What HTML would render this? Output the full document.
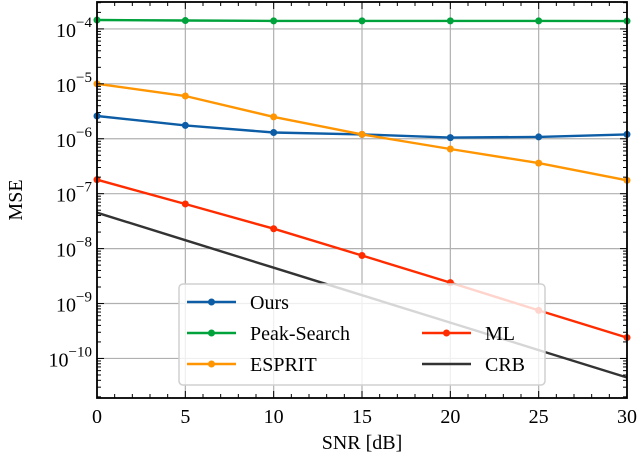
<!DOCTYPE html>
<html><head><meta charset="utf-8"><style>
html,body{margin:0;padding:0;background:#fff;}
svg{display:block;font-family:"Liberation Serif","DejaVu Serif",serif;}
</style></head><body>
<svg id="chart" width="640" height="457" viewBox="0 0 640 457" xmlns="http://www.w3.org/2000/svg"></svg>
<script>
const snr = [0, 5, 10, 15, 20, 25, 30];
const xTicks = [0, 5, 10, 15, 20, 25, 30];
const yTickExps = [-4, -5, -6, -7, -8, -9, -10];
const oursMse = [2.6e-6, 1.75e-6, 1.3e-6, 1.2e-6, 1.05e-6, 1.08e-6, 1.2e-6];
const peakMse = [1.45e-4, 1.42e-4, 1.4e-4, 1.4e-4, 1.4e-4, 1.4e-4, 1.39e-4];
const espritMse = [1.0e-5, 6.0e-6, 2.5e-6, 1.2e-6, 6.5e-7, 3.6e-7, 1.75e-7];
const mlMse = [1.8e-7, 6.5e-8, 2.3e-8, 7.5e-9, 2.4e-9, 7.5e-10, 2.4e-10];
const crbMse = [4.5e-8, 1.42e-8, 4.5e-9, 1.42e-9, 4.5e-10, 1.42e-10, 4.5e-11];

const svg = document.getElementById('chart');
const NS = 'http://www.w3.org/2000/svg';
const L = 97, R = 627, T = 2, B = 398;
const yTop = -3.51, yBot = -10.72;
function xs(v){ return L + (v - 0) / 30 * (R - L); }
function ys(v){ const lg = Math.log10(v); return T + (yTop - lg) / (yTop - yBot) * (B - T); }
function mk(tag, attrs, parent){ const e = document.createElementNS(NS, tag); for (const k in attrs) e.setAttribute(k, attrs[k]); (parent||svg).appendChild(e); return e; }

const grid = mk('g', {});


xTicks.forEach(t => mk('line', {x1: xs(t), x2: xs(t), y1: T, y2: B, stroke: '#b0b0b0', 'stroke-width': 1.2}, grid));
yTickExps.forEach(e => mk('line', {x1: L, x2: R, y1: ys(Math.pow(10, e)), y2: ys(Math.pow(10, e)), stroke: '#b0b0b0', 'stroke-width': 1.2}, grid));

const series = [
  {name: 'ours', data: oursMse, color: '#0c5da5', marker: true},
  {name: 'peak-search', data: peakMse, color: '#00a23c', marker: true},
  {name: 'esprit', data: espritMse, color: '#ff9500', marker: true},
  {name: 'ml', data: mlMse, color: '#ff2c00', marker: true},
  {name: 'crb', data: crbMse, color: '#333333', marker: false}
];
series.forEach(s => {
  const g = mk('g', {});
  
  
  const pts = s.data.map((v, i) => xs(snr[i]).toFixed(1) + ',' + ys(v).toFixed(1)).join(' ');
  const pl = mk('polyline', {points: pts, fill: 'none', stroke: s.color, 'stroke-width': 2.4}, g);
  
  
  if (s.marker) s.data.forEach((v, i) => {
    const c = mk('circle', {cx: xs(snr[i]), cy: ys(v), r: 3.5, fill: s.color}, g);
    
    
  });
});

const ax = mk('g', {});


mk('rect', {x: L, y: T, width: R - L, height: B - T, fill: 'none', stroke: '#000', 'stroke-width': 1.8}, ax);
for (let v = 0; v <= 30; v += 1) {
  const major = v % 5 === 0;
  const len = major ? 7 : 4;
  mk('line', {x1: xs(v), x2: xs(v), y1: B, y2: B - len, stroke: '#000', 'stroke-width': 1}, ax);
  mk('line', {x1: xs(v), x2: xs(v), y1: T, y2: T + len, stroke: '#000', 'stroke-width': 1}, ax);
}
xTicks.forEach(t => {
  const tx = mk('text', {x: xs(t), y: B + 25, 'text-anchor': 'middle', 'font-size': 20, fill: '#000'}, ax);
  tx.textContent = t;
  
  
});
for (let e = -11; e <= -4; e++) {
  for (let m = 1; m <= 9; m++) {
    const v = m * Math.pow(10, e);
    const y = ys(v);
    if (y < T || y > B) continue;
    const len = m === 1 ? 7 : 4;
    mk('line', {x1: L, x2: L + len, y1: y, y2: y, stroke: '#000', 'stroke-width': 1}, ax);
    mk('line', {x1: R, x2: R - len, y1: y, y2: y, stroke: '#000', 'stroke-width': 1}, ax);
  }
}
yTickExps.forEach(e => {
  const tx = mk('text', {x: L - 5, y: ys(Math.pow(10, e)) + 8, 'text-anchor': 'end', 'font-size': 20, fill: '#000'}, ax);
  
  
  const base = document.createElementNS(NS, 'tspan'); base.textContent = '10';
  const sup = document.createElementNS(NS, 'tspan');
  sup.setAttribute('dy', -10);
  sup.setAttribute('font-size', 15);
  sup.textContent = '\u2212' + Math.abs(e);
  tx.appendChild(base); tx.appendChild(sup);
});
const xl = mk('text', {x: (L + R) / 2, y: 449, 'text-anchor': 'middle', 'font-size': 20, fill: '#000'});
xl.textContent = 'SNR [dB]';


const yl = mk('text', {x: 0, y: 0, 'text-anchor': 'middle', 'font-size': 20, fill: '#000', transform: 'translate(22,' + ((T + B) / 2) + ') rotate(-90)'});
yl.textContent = 'MSE';



const lg = mk('g', {});


mk('rect', {x: 179, y: 284, width: 366, height: 101, rx: 4, fill: 'rgba(255,255,255,0.8)', stroke: '#d0d0d0', 'stroke-width': 1.5}, lg);
const entries = [
  {label: 'Ours', color: '#0c5da5', x: 187, y: 302, marker: true},
  {label: 'Peak-Search', color: '#00a23c', x: 187, y: 333, marker: true},
  {label: 'ESPRIT', color: '#ff9500', x: 187, y: 364, marker: true},
  {label: 'ML', color: '#ff2c00', x: 422, y: 333, marker: true},
  {label: 'CRB', color: '#333333', x: 422, y: 364, marker: false}
];
entries.forEach(en => {
  const g = mk('g', {}, lg);
  
  
  mk('line', {x1: en.x, x2: en.x + 49, y1: en.y, y2: en.y, stroke: en.color, 'stroke-width': 2.4}, g);
  if (en.marker) mk('circle', {cx: en.x + 24.5, cy: en.y, r: 3.5, fill: en.color}, g);
  const t = mk('text', {x: en.x + 63, y: en.y + 7, 'font-size': 20, fill: '#000'}, g);
  t.textContent = en.label;
});
</script>
</body></html>
